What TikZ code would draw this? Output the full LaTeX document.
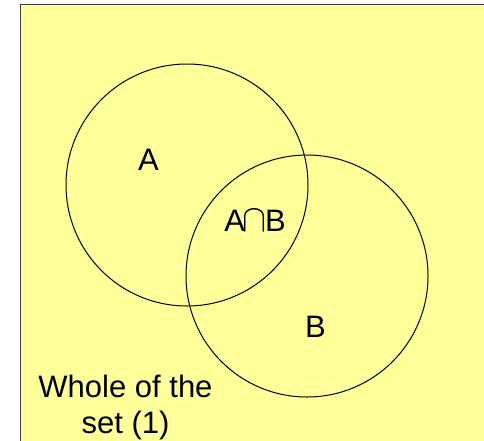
\documentclass[tikz,border=0pt]{standalone}
\usepackage{fontspec}
\setmainfont{Liberation Sans}
\definecolor{bgyellow}{HTML}{FFFF99}
\definecolor{frame}{HTML}{404040}
\begin{document}
\begin{tikzpicture}[x=1pt,y=-1pt,
  setcircle/.style={draw=black,line width=1pt},
  lbl/.style={font=\fontsize{31}{36}\selectfont,inner sep=0pt,anchor=base,text=black}]
\useasboundingbox (0,0) rectangle (484,440);
\fill[white] (0,0) rectangle (484,440);
\path[fill=bgyellow,draw=frame,line width=1.3pt] (20.5,4.5) rectangle (500,460);
\node[setcircle,circle,minimum size=242pt,inner sep=0pt] (A) at (187,185) {};
\node[setcircle,circle,minimum size=242pt,inner sep=0pt] (B) at (307,276) {};
\node[lbl] (la) at (148.5,170) {A};
\node[lbl] (lb) at (315.5,337) {B};
\node[lbl] (lab) at (255,231.5) {A\kern-2pt\scalebox{1.45}[1.55]{$\cap$}\kern-2ptB};
\node[lbl,align=center] (whole) at (125.5,433.5) {Whole of the\\set (1)};
\end{tikzpicture}
\end{document}
